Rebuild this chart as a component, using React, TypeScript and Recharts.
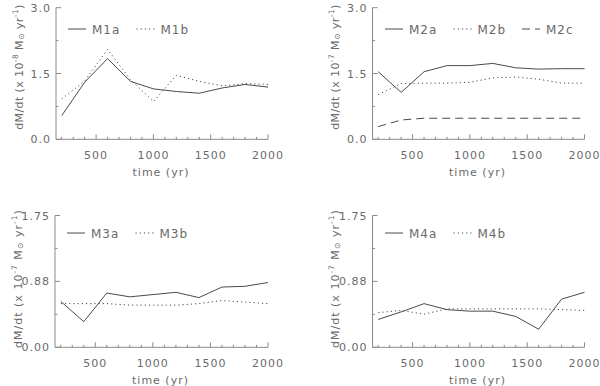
import React from 'react';
import { LineChart, Line, XAxis, YAxis, Legend } from 'recharts';

// ---------- data ----------
const times = [200, 400, 600, 800, 1000, 1200, 1400, 1600, 1800, 2000];

const m1a = [0.54, 1.3, 1.84, 1.32, 1.15, 1.09, 1.05, 1.17, 1.25, 1.19];
const m1b = [0.92, 1.33, 2.05, 1.36, 0.86, 1.46, 1.32, 1.22, 1.27, 1.25];

const m2a = [1.54, 1.07, 1.54, 1.68, 1.68, 1.73, 1.63, 1.6, 1.61, 1.61];
const m2b = [1.02, 1.27, 1.28, 1.28, 1.3, 1.4, 1.42, 1.37, 1.28, 1.28];
const m2c = [0.29, 0.44, 0.48, 0.48, 0.48, 0.48, 0.48, 0.48, 0.48, 0.48];

const m3a = [0.61, 0.34, 0.72, 0.67, 0.7, 0.73, 0.66, 0.8, 0.81, 0.86];
const m3b = [0.58, 0.58, 0.58, 0.56, 0.56, 0.56, 0.58, 0.62, 0.6, 0.58];

const m4a = [0.37, 0.47, 0.58, 0.5, 0.48, 0.48, 0.41, 0.24, 0.64, 0.73];
const m4b = [0.46, 0.49, 0.44, 0.51, 0.51, 0.51, 0.51, 0.51, 0.5, 0.49];

const xDomain = [150, 2000];
const xTicks = [200, 300, 400, 500, 600, 700, 800, 900, 1000, 1100, 1200, 1300, 1400, 1500, 1600, 1700, 1800, 1900, 2000];
const xMajor = [500, 1000, 1500, 2000];
const xTickLabels = ['500', '1000', '1500', '2000'];
const xLabel = 'time (yr)';

const yTicksTop = [0, 0.75, 1.5, 2.25, 3.0];
const yMajorTop = [0, 1.5, 3.0];
const yTickLabelsTop = ['0.0', '1.5', '3.0'];

const yTicksBottom = [0, 0.4375, 0.875, 1.3125, 1.75];
const yMajorBottom = [0, 0.875, 1.75];
const yTickLabelsBottom = ['0.00', '0.88', '1.75'];

// ---------- style ----------
const TEXT = '#6a6a6a';
const FRAME = '#8a8a8a';
const LINE = '#4a4a4a';
const FONT = '"DejaVu Sans", Verdana, sans-serif';
const DOT = '1.2 3';
const DASH = '8 5';

type Series = { key: string; values: number[]; dash?: string };

const buildRows = (series: Series[]) =>
  times.map((t, i) => {
    const row: any = { t };
    series.forEach((s) => {
      row[s.key] = s.values[i];
    });
    return row;
  });

type Orient = 'bottom' | 'top' | 'left' | 'right';

function makeTick(orient: Orient, majors: number[], labels: string[] | null) {
  return (props: any) => {
    const { x, y, payload } = props;
    const v = payload.value;
    const i = majors.findIndex((m) => Math.abs(m - v) < 1e-9);
    const len = i >= 0 ? 5 : 2.5;
    let ln: React.ReactNode = null;
    let lbl: React.ReactNode = null;
    if (orient === 'bottom') {
      ln = <line x1={x} y1={y} x2={x} y2={y - len} stroke={FRAME} strokeWidth={1} />;
      if (labels && i >= 0)
        lbl = (
          <text x={x} y={y + 19.5} textAnchor="middle" fontSize={11} letterSpacing={1} fill={TEXT} fontFamily={FONT}>
            {labels[i]}
          </text>
        );
    } else if (orient === 'top') {
      ln = <line x1={x} y1={y} x2={x} y2={y + len} stroke={FRAME} strokeWidth={1} />;
    } else if (orient === 'left') {
      ln = <line x1={x} y1={y} x2={x + len} y2={y} stroke={FRAME} strokeWidth={1} />;
      if (labels && i >= 0)
        lbl = (
          <text x={x - 5} y={y + 4} textAnchor="end" fontSize={11} letterSpacing={1} fill={TEXT} fontFamily={FONT}>
            {labels[i]}
          </text>
        );
    } else {
      ln = <line x1={x} y1={y} x2={x - len} y2={y} stroke={FRAME} strokeWidth={1} />;
    }
    return (
      <g>
        {ln}
        {lbl}
      </g>
    );
  };
}

type PanelProps = {
  left: number;
  top: number;
  plot: { l: number; r: number; t: number; b: number };
  series: Series[];
  yTicks: number[];
  yMajor: number[];
  yLabels: string[];
  yMax: number;
  exp: string;
  labelCy: number;
  labelSpacing: number;
  legendY: number;
};

const W = 300;
const H = 193;

function Panel({ left, top, plot, series, yTicks, yMajor, yLabels, yMax, exp, labelCy, labelSpacing, legendY }: PanelProps) {
  const data = buildRows(series);
  const yLabelCx = plot.l - 37.5;
  const xLabelCx = (plot.l + plot.r) / 2 - 1;
  const yLabelContent = () => (
    <text
      x={yLabelCx}
      y={labelCy}
      transform={`rotate(-90 ${yLabelCx} ${labelCy})`}
      textAnchor="middle"
      dominantBaseline="central"
      fontSize={11}
      letterSpacing={labelSpacing}
      fill={TEXT}
      fontFamily={FONT}
    >
      <tspan>dM/dt (x 10</tspan>
      <tspan dy={-4} fontSize={7.5}>{exp}</tspan>
      <tspan dy={4}> M</tspan>
      <tspan dy={2} fontSize={8}>⊙</tspan>
      <tspan dy={-2}> yr</tspan>
      <tspan dy={-4} fontSize={7.5}>-1</tspan>
      <tspan dy={4}>)</tspan>
    </text>
  );
  const xLabelContent = () => (
    <text x={xLabelCx} y={plot.b + 36.5} textAnchor="middle" fontSize={11} letterSpacing={1} fill={TEXT} fontFamily={FONT}>
      {xLabel}
    </text>
  );
  const legendContent = () => (
    <svg width={240} height={20} style={{ overflow: 'visible', display: 'block' }}>
      {series.map((s, i) => {
        const x0 = i * 68.5;
        return (
          <g key={s.key}>
            <line x1={x0} y1={10} x2={x0 + 18} y2={10} stroke={LINE} strokeWidth={1} strokeDasharray={s.dash} />
            <text x={x0 + 24} y={15} fontSize={12} letterSpacing={1} fill={TEXT} fontFamily={FONT}>
              {s.key}
            </text>
          </g>
        );
      })}
    </svg>
  );
  return (
    <div style={{ position: 'absolute', left, top, width: W, height: H }}>
      <LineChart
        width={W}
        height={H}
        data={data}
        margin={{ top: plot.t, right: W - plot.r, bottom: 0, left: 0 }}
      >
        <XAxis
          xAxisId="b"
          orientation="bottom"
          type="number"
          dataKey="t"
          domain={xDomain}
          ticks={xTicks}
          interval={0}
          height={H - plot.b}
          tickSize={0}
          tickMargin={0}
          tickLine={false}
          axisLine={{ stroke: FRAME, strokeWidth: 1 }}
          tick={makeTick('bottom', xMajor, xTickLabels)}
          label={{ content: xLabelContent }}
        />
        <XAxis
          xAxisId="t"
          orientation="top"
          type="number"
          dataKey="t"
          domain={xDomain}
          ticks={xTicks}
          interval={0}
          height={0}
          tickSize={0}
          tickMargin={0}
          tickLine={false}
          axisLine={{ stroke: FRAME, strokeWidth: 1 }}
          tick={makeTick('top', xMajor, null)}
        />
        <YAxis
          yAxisId="l"
          orientation="left"
          type="number"
          domain={[0, yMax]}
          ticks={yTicks}
          interval={0}
          width={plot.l}
          tickSize={0}
          tickMargin={0}
          tickLine={false}
          axisLine={{ stroke: FRAME, strokeWidth: 1 }}
          tick={makeTick('left', yMajor, yLabels)}
          label={{ content: yLabelContent }}
        />
        <YAxis
          yAxisId="r"
          orientation="right"
          type="number"
          domain={[0, yMax]}
          ticks={yTicks}
          interval={0}
          width={0}
          tickSize={0}
          tickMargin={0}
          tickLine={false}
          axisLine={{ stroke: FRAME, strokeWidth: 1 }}
          tick={makeTick('right', yMajor, null)}
        />
        <Legend
          verticalAlign="middle"
          align="center"
          layout="horizontal"
          wrapperStyle={{ left: plot.l + 12, top: legendY - 10, width: 240, height: 20 }}
          content={legendContent}
        />
        {series.map((s) => (
          <Line
            key={s.key}
            xAxisId="b"
            yAxisId="l"
            type="linear"
            dataKey={s.key}
            name={s.key}
            stroke={LINE}
            strokeWidth={1}
            strokeDasharray={s.dash}
            dot={false}
            activeDot={false}
            isAnimationActive={false}
          />
        ))}
      </LineChart>
    </div>
  );
}

export default function App() {
  return (
    <div style={{ position: 'absolute', left: 0, top: 0, width: 600, height: 386, background: '#fff', overflow: 'hidden' }}>
      <Panel
        left={0}
        top={0}
        plot={{ l: 56, r: 268, t: 7.7, b: 139.3 }}
        series={[
          { key: 'M1a', values: m1a },
          { key: 'M1b', values: m1b, dash: DOT },
        ]}
        yTicks={yTicksTop}
        yMajor={yMajorTop}
        yLabels={yTickLabelsTop}
        yMax={3}
        exp="-8"
        labelCy={67}
        labelSpacing={0.4}
        legendY={29.3}
      />
      <Panel
        left={300}
        top={0}
        plot={{ l: 72.5, r: 284.5, t: 7.7, b: 139.3 }}
        series={[
          { key: 'M2a', values: m2a },
          { key: 'M2b', values: m2b, dash: DOT },
          { key: 'M2c', values: m2c, dash: DASH },
        ]}
        yTicks={yTicksTop}
        yMajor={yMajorTop}
        yLabels={yTickLabelsTop}
        yMax={3}
        exp="-7"
        labelCy={67}
        labelSpacing={0.4}
        legendY={28.5}
      />
      <Panel
        left={0}
        top={193}
        plot={{ l: 55, r: 268, t: 22.5, b: 154.3 }}
        series={[
          { key: 'M3a', values: m3a },
          { key: 'M3b', values: m3b, dash: DOT },
        ]}
        yTicks={yTicksBottom}
        yMajor={yMajorBottom}
        yLabels={yTickLabelsBottom}
        yMax={1.75}
        exp="-7"
        labelCy={85.5}
        labelSpacing={1}
        legendY={39.5}
      />
      <Panel
        left={300}
        top={193}
        plot={{ l: 72.5, r: 284.5, t: 22.5, b: 154.3 }}
        series={[
          { key: 'M4a', values: m4a },
          { key: 'M4b', values: m4b, dash: DOT },
        ]}
        yTicks={yTicksBottom}
        yMajor={yMajorBottom}
        yLabels={yTickLabelsBottom}
        yMax={1.75}
        exp="-7"
        labelCy={85.5}
        labelSpacing={1}
        legendY={39.5}
      />
    </div>
  );
}
